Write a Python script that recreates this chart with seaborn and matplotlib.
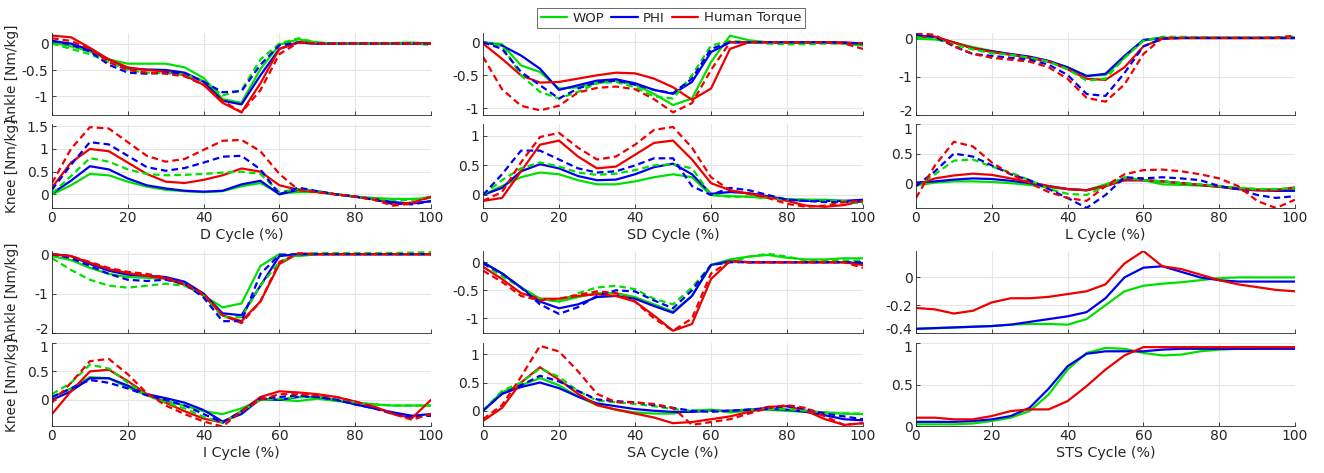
import matplotlib
matplotlib.use('Agg')
import matplotlib.pyplot as plt
import matplotlib.ticker as mticker
import matplotlib.transforms as mtransforms
from matplotlib.lines import Line2D
import seaborn as sns

# gait cycle sample points (%)
pct = list(range(0, 101, 5))

# solid (_a) and dashed (_b) curves, Nm/kg
d_ank_wop_a = [0.02,-0.05,-0.15,-0.30,-0.38,-0.38,-0.38,-0.45,-0.65,-1.05,-1.12,-0.48,-0.02,0.08,0.02,0.0,0.0,0.0,0.01,0.02,0.0]
d_ank_wop_b = [0.0,-0.10,-0.20,-0.35,-0.50,-0.55,-0.56,-0.58,-0.70,-0.98,-0.88,-0.30,0.0,0.10,0.02,0.0,0.0,0.0,0.0,0.01,-0.03]
d_ank_phi_a = [0.05,0.0,-0.12,-0.30,-0.47,-0.49,-0.50,-0.55,-0.72,-1.08,-1.15,-0.60,-0.10,0.02,0.0,0.0,0.0,0.0,0.0,0.0,0.0]
d_ank_phi_b = [0.05,-0.02,-0.15,-0.40,-0.55,-0.57,-0.55,-0.56,-0.72,-0.92,-0.90,-0.40,-0.03,0.02,0.0,0.0,0.0,0.0,0.0,0.0,0.0]
d_ank_hum_a = [0.15,0.12,-0.08,-0.30,-0.45,-0.50,-0.53,-0.60,-0.78,-1.12,-1.30,-0.75,-0.10,0.03,0.0,0.0,0.0,0.0,0.0,0.0,0.0]
d_ank_hum_b = [0.10,0.05,-0.10,-0.35,-0.50,-0.55,-0.57,-0.62,-0.78,-1.08,-1.30,-0.88,-0.20,0.02,0.0,0.0,0.0,0.0,0.0,0.0,0.0]

d_kn_wop_a = [0.0,0.20,0.45,0.42,0.28,0.17,0.10,0.07,0.05,0.07,0.18,0.25,0.02,0.05,0.05,0.0,-0.05,-0.08,-0.10,-0.10,-0.08]
d_kn_wop_b = [0.02,0.40,0.80,0.72,0.55,0.45,0.42,0.43,0.45,0.48,0.50,0.45,0.05,0.12,0.07,0.0,-0.05,-0.10,-0.12,-0.12,-0.05]
d_kn_phi_a = [0.02,0.30,0.62,0.55,0.35,0.20,0.13,0.08,0.06,0.08,0.22,0.30,0.0,0.10,0.07,0.0,-0.05,-0.10,-0.17,-0.20,-0.15]
d_kn_phi_b = [0.10,0.65,1.15,1.10,0.85,0.60,0.52,0.58,0.70,0.83,0.85,0.55,0.0,0.15,0.07,0.0,-0.05,-0.12,-0.20,-0.22,-0.15]
d_kn_hum_a = [0.15,0.70,1.00,0.95,0.70,0.45,0.28,0.25,0.32,0.42,0.57,0.50,0.20,0.10,0.05,0.0,-0.05,-0.10,-0.22,-0.18,-0.05]
d_kn_hum_b = [0.25,1.00,1.48,1.45,1.15,0.85,0.72,0.78,0.98,1.18,1.20,0.95,0.45,0.10,0.05,0.0,-0.05,-0.12,-0.25,-0.20,-0.05]

sd_ank_wop_a = [0.0,-0.03,-0.35,-0.45,-0.70,-0.68,-0.62,-0.58,-0.64,-0.78,-0.95,-0.85,-0.30,0.10,0.03,0.0,-0.01,-0.01,-0.01,-0.01,-0.05]
sd_ank_wop_b = [0.0,-0.05,-0.50,-0.75,-0.85,-0.75,-0.62,-0.60,-0.68,-0.82,-0.85,-0.50,-0.05,0.02,0.0,-0.02,-0.03,-0.03,-0.02,-0.02,-0.05]
sd_ank_phi_a = [0.0,-0.05,-0.20,-0.40,-0.72,-0.65,-0.58,-0.56,-0.62,-0.72,-0.78,-0.60,-0.15,0.0,0.0,0.0,0.0,0.0,0.0,-0.01,-0.02]
sd_ank_phi_b = [0.0,-0.10,-0.45,-0.65,-0.85,-0.70,-0.60,-0.58,-0.64,-0.72,-0.77,-0.55,-0.10,0.0,0.0,0.0,0.0,0.0,0.0,-0.01,-0.02]
sd_ank_hum_a = [-0.02,-0.25,-0.50,-0.61,-0.60,-0.55,-0.50,-0.46,-0.47,-0.55,-0.68,-0.87,-0.70,-0.10,0.0,0.0,0.0,0.0,0.0,0.0,-0.02]
sd_ank_hum_b = [-0.22,-0.71,-0.96,-1.03,-0.96,-0.76,-0.69,-0.67,-0.71,-0.86,-1.06,-0.92,-0.42,0.0,0.0,0.0,0.0,0.0,0.0,-0.02,-0.10]

sd_kn_wop_a = [0.0,0.15,0.30,0.38,0.35,0.25,0.18,0.18,0.23,0.30,0.35,0.30,0.0,-0.02,-0.03,-0.05,-0.07,-0.08,-0.08,-0.10,-0.12]
sd_kn_wop_b = [0.0,0.25,0.45,0.55,0.48,0.38,0.34,0.36,0.42,0.50,0.52,0.45,0.0,-0.03,-0.03,-0.05,-0.08,-0.08,-0.10,-0.10,-0.15]
sd_kn_phi_a = [0.0,0.12,0.40,0.52,0.45,0.32,0.25,0.26,0.35,0.47,0.53,0.35,0.02,0.05,0.03,-0.02,-0.08,-0.10,-0.10,-0.10,-0.08]
sd_kn_phi_b = [0.0,0.35,0.75,0.75,0.60,0.45,0.38,0.40,0.50,0.62,0.62,0.15,0.0,0.12,0.08,0.0,-0.08,-0.10,-0.12,-0.12,-0.10]
sd_kn_hum_a = [-0.10,-0.05,0.40,0.85,0.92,0.65,0.45,0.48,0.68,0.88,0.92,0.60,0.20,0.08,0.02,-0.03,-0.10,-0.18,-0.20,-0.17,-0.10]
sd_kn_hum_b = [-0.10,0.05,0.55,0.98,1.05,0.80,0.60,0.65,0.85,1.10,1.15,0.80,0.30,0.08,0.02,-0.05,-0.15,-0.20,-0.18,-0.12,-0.10]

l_ank_wop_a = [0.0,-0.02,-0.10,-0.22,-0.32,-0.42,-0.50,-0.60,-0.75,-0.97,-0.95,-0.50,-0.05,0.02,0.02,0.02,0.02,0.02,0.02,0.02,0.02]
l_ank_wop_b = [0.05,0.0,-0.15,-0.28,-0.38,-0.42,-0.50,-0.60,-0.80,-1.10,-1.05,-0.50,-0.05,0.05,0.05,0.04,0.03,0.03,0.03,0.03,0.05]
l_ank_phi_a = [0.08,0.05,-0.10,-0.25,-0.33,-0.40,-0.47,-0.58,-0.75,-0.98,-0.92,-0.45,-0.03,0.02,0.02,0.02,0.02,0.02,0.02,0.02,0.02]
l_ank_phi_b = [0.10,0.05,-0.20,-0.40,-0.45,-0.50,-0.55,-0.68,-0.95,-1.45,-1.50,-0.90,-0.20,0.0,0.02,0.02,0.02,0.02,0.02,0.02,0.02]
l_ank_hum_a = [0.05,0.05,-0.10,-0.25,-0.35,-0.42,-0.50,-0.60,-0.80,-1.05,-1.08,-0.75,-0.20,0.0,0.02,0.02,0.02,0.02,0.02,0.02,0.02]
l_ank_hum_b = [0.15,0.10,-0.20,-0.40,-0.50,-0.55,-0.60,-0.75,-1.05,-1.55,-1.65,-1.20,-0.40,0.02,0.02,0.02,0.02,0.02,0.02,0.03,0.08]

l_kn_wop_a = [-0.04,0.01,0.03,0.03,0.02,0.0,-0.03,-0.07,-0.10,-0.12,-0.02,0.08,0.05,-0.02,-0.03,-0.04,-0.06,-0.08,-0.10,-0.10,-0.10]
l_kn_wop_b = [-0.05,0.15,0.38,0.40,0.28,0.18,0.05,-0.10,-0.18,-0.20,-0.05,0.10,0.05,0.03,0.0,-0.02,-0.05,-0.08,-0.10,-0.10,-0.08]
l_kn_phi_a = [0.01,0.03,0.06,0.08,0.07,0.04,0.0,-0.05,-0.10,-0.12,-0.05,0.05,0.05,0.03,0.0,-0.03,-0.06,-0.10,-0.12,-0.13,-0.13]
l_kn_phi_b = [-0.05,0.20,0.50,0.45,0.30,0.15,0.05,-0.10,-0.25,-0.42,-0.20,0.10,0.08,0.10,0.08,0.05,-0.05,-0.10,-0.20,-0.25,-0.22]
l_kn_hum_a = [-0.03,0.08,0.13,0.16,0.14,0.08,0.02,-0.05,-0.10,-0.12,-0.05,0.05,0.05,0.03,0.0,-0.03,-0.06,-0.10,-0.12,-0.12,-0.07]
l_kn_hum_b = [-0.25,0.30,0.70,0.62,0.35,0.15,0.0,-0.15,-0.25,-0.30,-0.05,0.15,0.22,0.23,0.20,0.15,0.08,-0.05,-0.30,-0.42,-0.28]

i_ank_wop_a = [-0.05,-0.15,-0.35,-0.50,-0.58,-0.60,-0.62,-0.75,-1.05,-1.35,-1.25,-0.30,0.0,-0.05,0.0,0.0,0.0,0.0,0.0,0.0,0.0]
i_ank_wop_b = [-0.10,-0.40,-0.65,-0.80,-0.85,-0.80,-0.75,-0.80,-1.05,-1.60,-1.60,-0.80,-0.20,0.0,0.03,0.03,0.03,0.03,0.03,0.04,0.05]
i_ank_phi_a = [0.0,-0.05,-0.25,-0.42,-0.52,-0.55,-0.58,-0.70,-1.00,-1.50,-1.55,-0.80,-0.05,0.0,0.0,0.0,0.0,0.0,0.0,0.0,0.0]
i_ank_phi_b = [0.0,-0.10,-0.30,-0.50,-0.65,-0.68,-0.65,-0.75,-1.10,-1.70,-1.70,-0.50,-0.02,0.0,0.0,0.0,0.0,0.0,0.0,0.0,0.0]
i_ank_hum_a = [0.0,-0.05,-0.22,-0.38,-0.48,-0.55,-0.62,-0.78,-1.05,-1.55,-1.70,-1.20,-0.25,0.02,0.0,0.0,0.0,0.0,0.0,0.0,0.0]
i_ank_hum_b = [0.0,-0.05,-0.20,-0.35,-0.45,-0.50,-0.60,-0.75,-1.00,-1.55,-1.75,-1.20,-0.20,0.02,0.0,0.0,0.0,0.0,0.0,0.0,0.0]

i_kn_wop_a = [0.05,0.20,0.40,0.38,0.22,0.08,-0.02,-0.10,-0.20,-0.25,-0.15,0.0,0.0,-0.02,0.02,-0.02,-0.05,-0.08,-0.10,-0.10,-0.10]
i_kn_wop_b = [0.10,0.30,0.62,0.55,0.30,0.08,-0.05,-0.15,-0.30,-0.40,-0.20,0.0,0.02,0.05,0.05,0.0,-0.05,-0.08,-0.10,-0.10,-0.10]
i_kn_phi_a = [0.0,0.15,0.38,0.38,0.25,0.10,0.03,-0.05,-0.18,-0.38,-0.25,0.02,0.0,0.05,0.05,0.0,-0.08,-0.15,-0.22,-0.28,-0.25]
i_kn_phi_b = [0.05,0.20,0.35,0.30,0.20,0.08,0.0,-0.10,-0.25,-0.40,-0.20,0.02,0.05,0.08,0.05,0.0,-0.08,-0.15,-0.25,-0.30,-0.28]
i_kn_hum_a = [-0.25,0.15,0.50,0.53,0.33,0.10,-0.05,-0.20,-0.33,-0.40,-0.20,0.05,0.15,0.13,0.10,0.05,-0.03,-0.12,-0.25,-0.32,0.0]
i_kn_hum_b = [-0.05,0.30,0.68,0.72,0.45,0.12,-0.10,-0.25,-0.38,-0.47,-0.20,0.0,0.10,0.10,0.08,0.05,-0.03,-0.12,-0.25,-0.35,-0.25]

sa_ank_wop_a = [0.0,-0.20,-0.45,-0.65,-0.70,-0.62,-0.55,-0.55,-0.62,-0.75,-0.88,-0.60,-0.05,0.05,0.10,0.13,0.08,0.05,0.05,0.07,0.07]
sa_ank_wop_b = [-0.02,-0.25,-0.45,-0.65,-0.70,-0.55,-0.45,-0.42,-0.48,-0.65,-0.75,-0.45,-0.05,0.0,0.10,0.15,0.10,0.03,0.03,0.03,0.03]
sa_ank_phi_a = [0.0,-0.20,-0.45,-0.70,-0.82,-0.75,-0.62,-0.60,-0.65,-0.78,-0.90,-0.60,-0.05,0.02,0.0,0.0,0.0,0.0,0.0,0.0,-0.02]
sa_ank_phi_b = [-0.02,-0.20,-0.45,-0.75,-0.92,-0.80,-0.60,-0.50,-0.52,-0.68,-0.82,-0.50,-0.05,0.0,0.0,0.0,0.0,0.0,0.0,0.0,0.0]
sa_ank_hum_a = [-0.08,-0.30,-0.55,-0.65,-0.65,-0.60,-0.57,-0.60,-0.70,-0.95,-1.22,-1.10,-0.30,0.02,0.0,0.0,0.0,0.0,0.0,0.0,-0.05]
sa_ank_hum_b = [-0.15,-0.35,-0.60,-0.68,-0.65,-0.58,-0.52,-0.55,-0.70,-1.00,-1.22,-1.00,-0.20,0.02,0.0,0.0,0.0,0.0,0.0,0.0,-0.10]

sa_kn_wop_a = [0.0,0.33,0.45,0.58,0.45,0.25,0.10,0.02,-0.03,-0.05,-0.05,0.0,0.02,-0.03,0.0,0.02,0.0,-0.02,-0.03,-0.05,-0.06]
sa_kn_wop_b = [0.0,0.35,0.50,0.75,0.60,0.35,0.18,0.15,0.12,0.08,0.03,0.0,0.0,0.0,0.02,0.03,0.03,0.0,-0.03,-0.05,-0.05]
sa_kn_phi_a = [0.0,0.30,0.42,0.50,0.40,0.25,0.13,0.08,0.03,0.0,-0.02,-0.02,0.0,0.0,0.02,0.03,0.02,-0.02,-0.08,-0.15,-0.17]
sa_kn_phi_b = [0.0,0.30,0.45,0.62,0.52,0.35,0.20,0.17,0.15,0.10,0.05,0.0,-0.02,0.0,0.02,0.05,0.08,0.03,-0.05,-0.10,-0.15]
sa_kn_hum_a = [-0.18,0.05,0.50,0.77,0.55,0.30,0.10,0.02,-0.05,-0.12,-0.22,-0.20,-0.15,-0.10,-0.02,0.07,0.08,0.0,-0.15,-0.25,-0.22]
sa_kn_hum_b = [-0.15,0.10,0.60,1.15,1.05,0.70,0.30,0.15,0.15,0.12,0.05,-0.25,-0.20,-0.15,-0.05,0.05,0.10,0.05,-0.10,-0.25,-0.22]

sts_ank_wop = [-0.37,-0.365,-0.36,-0.355,-0.35,-0.34,-0.335,-0.335,-0.34,-0.30,-0.20,-0.10,-0.06,-0.045,-0.035,-0.02,-0.005,0.0,0.0,0.0,0.0]
sts_ank_phi = [-0.37,-0.365,-0.36,-0.355,-0.35,-0.34,-0.32,-0.30,-0.28,-0.25,-0.15,0.0,0.07,0.08,0.04,0.0,-0.02,-0.03,-0.03,-0.03,-0.03]
sts_ank_hum = [-0.22,-0.23,-0.26,-0.24,-0.18,-0.15,-0.15,-0.14,-0.12,-0.10,-0.05,0.10,0.19,0.08,0.06,0.02,-0.02,-0.05,-0.07,-0.09,-0.10]

sts_kn_wop = [0.02,0.02,0.02,0.03,0.06,0.10,0.18,0.38,0.68,0.88,0.94,0.93,0.88,0.85,0.86,0.90,0.92,0.93,0.93,0.94,0.94]
sts_kn_phi = [0.05,0.05,0.05,0.06,0.08,0.12,0.22,0.45,0.72,0.87,0.90,0.90,0.90,0.92,0.93,0.93,0.93,0.93,0.93,0.93,0.93]
sts_kn_hum = [0.10,0.10,0.08,0.08,0.12,0.18,0.20,0.20,0.30,0.48,0.68,0.85,0.95,0.95,0.95,0.95,0.95,0.95,0.95,0.95,0.95]

labels = ['WOP', 'PHI', 'Human Torque']
colors = ['#00e000', '#0000ee', '#ee0000']
tasks = ['D', 'SD', 'L', 'I', 'SA', 'STS']

sns.set_theme(style='ticks')
plt.rcParams['font.family'] = ['DejaVu Sans']
plt.rcParams['axes.unicode_minus'] = False

W, H = 1324, 473
fig = plt.figure(figsize=(W / 100, H / 100), dpi=100)

cols_px = [(52, 431), (483, 863), (916, 1295)]
rows_px = [(33, 115), (124, 208), (251, 333), (343, 426)]


def make_ax(r, c):
    l, rr = cols_px[c]
    t, b = rows_px[r]
    return fig.add_axes([l / W, 1 - b / H, (rr - l) / W, (b - t) / H])


def nudge(text, dy_px):
    off = mtransforms.ScaledTranslation(0, dy_px / 100, fig.dpi_scale_trans)
    text.set_transform(text.get_transform() + off)


def draw(ax, solid, dashed, ylim, yticks):
    for vals, col in zip(solid, colors):
        sns.lineplot(x=pct, y=vals, ax=ax, color=col, linewidth=1.6)
    for vals, col in zip(dashed, colors):
        sns.lineplot(x=pct, y=vals, ax=ax, color=col, linewidth=1.6,
                     linestyle=(0, (3, 1.8)))
    ax.set_xlim(0, 100)
    ax.set_ylim(*ylim)
    ax.set_xticks(range(0, 101, 20))
    ax.set_yticks(yticks)
    ax.yaxis.set_major_formatter(mticker.FormatStrFormatter('%g'))
    ax.grid(True, color='#e6e6e6', linewidth=0.8)
    ax.set_axisbelow(True)
    for s in ['top', 'right']:
        ax.spines[s].set_visible(False)
    for s in ['left', 'bottom']:
        ax.spines[s].set_color('#262626')
        ax.spines[s].set_linewidth(0.6)
    ax.tick_params(direction='in', length=3, width=0.6, colors='#262626',
                   labelsize=10, pad=2.5)
    ax.set_xlabel('')
    ax.set_ylabel('')


panels = [
    # (row, col, solid, dashed, ylim, yticks)
    (0, 0, [d_ank_wop_a, d_ank_phi_a, d_ank_hum_a], [d_ank_wop_b, d_ank_phi_b, d_ank_hum_b], (-1.35, 0.2), [-1, -0.5, 0]),
    (1, 0, [d_kn_wop_a, d_kn_phi_a, d_kn_hum_a], [d_kn_wop_b, d_kn_phi_b, d_kn_hum_b], (-0.3, 1.55), [0, 0.5, 1, 1.5]),
    (0, 1, [sd_ank_wop_a, sd_ank_phi_a, sd_ank_hum_a], [sd_ank_wop_b, sd_ank_phi_b, sd_ank_hum_b], (-1.1, 0.14), [-1, -0.5, 0]),
    (1, 1, [sd_kn_wop_a, sd_kn_phi_a, sd_kn_hum_a], [sd_kn_wop_b, sd_kn_phi_b, sd_kn_hum_b], (-0.22, 1.2), [0, 0.5, 1]),
    (0, 2, [l_ank_wop_a, l_ank_phi_a, l_ank_hum_a], [l_ank_wop_b, l_ank_phi_b, l_ank_hum_b], (-2, 0.15), [-2, -1, 0]),
    (1, 2, [l_kn_wop_a, l_kn_phi_a, l_kn_hum_a], [l_kn_wop_b, l_kn_phi_b, l_kn_hum_b], (-0.42, 1), [0, 0.5, 1]),
    (2, 0, [i_ank_wop_a, i_ank_phi_a, i_ank_hum_a], [i_ank_wop_b, i_ank_phi_b, i_ank_hum_b], (-2, 0.08), [-2, -1, 0]),
    (3, 0, [i_kn_wop_a, i_kn_phi_a, i_kn_hum_a], [i_kn_wop_b, i_kn_phi_b, i_kn_hum_b], (-0.46, 1), [0, 0.5, 1]),
    (2, 1, [sa_ank_wop_a, sa_ank_phi_a, sa_ank_hum_a], [sa_ank_wop_b, sa_ank_phi_b, sa_ank_hum_b], (-1.26, 0.2), [-1, -0.5, 0]),
    (3, 1, [sa_kn_wop_a, sa_kn_phi_a, sa_kn_hum_a], [sa_kn_wop_b, sa_kn_phi_b, sa_kn_hum_b], (-0.27, 1.2), [0, 0.5, 1]),
    (2, 2, [sts_ank_wop, sts_ank_phi, sts_ank_hum], [], (-0.4, 0.19), [-0.4, -0.2, 0]),
    (3, 2, [sts_kn_wop, sts_kn_phi, sts_kn_hum], [], (0, 1), [0, 0.5, 1]),
]

# stacked panels whose edge tick labels nearly touch
tight_upper = {(2, 0), (0, 2), (2, 2)}
tight_lower = {(3, 0), (1, 2), (3, 2)}

for r, c, solid, dashed, ylim, yticks in panels:
    ax = make_ax(r, c)
    draw(ax, solid, dashed, ylim, yticks)
    if r in (1, 3):
        task = tasks[c] if r == 1 else tasks[c + 3]
        ax.set_xlabel(f'{task} Cycle (%)', fontsize=10.3, color='#262626', labelpad=2)
    else:
        ax.tick_params(labelbottom=False)
    if c == 0:
        ax.set_ylabel('Ankle [Nm/kg]' if r in (0, 2) else 'Knee [Nm/kg]',
                      fontsize=9.8, color='#262626')
        ax.yaxis.set_label_coords(-33 / 379, 0.5)
    ticks = ax.yaxis.get_major_ticks()
    if (r, c) in tight_upper:
        nudge(ticks[0].label1, 4)
    if (r, c) in tight_lower:
        nudge(ticks[-1].label1, -4)

handles = [Line2D([0], [0], color=col, lw=1.6) for col in colors]
leg = fig.legend(handles, labels, loc='center', ncol=3,
                 bbox_to_anchor=(671 / W, 1 - 18 / H), fontsize=9.6,
                 frameon=True, fancybox=False, edgecolor='#262626',
                 handlelength=2.0, handletextpad=0.4, columnspacing=0.5,
                 borderpad=0.25)
leg.get_frame().set_linewidth(0.6)

fig.savefig('out.png', dpi=100)
